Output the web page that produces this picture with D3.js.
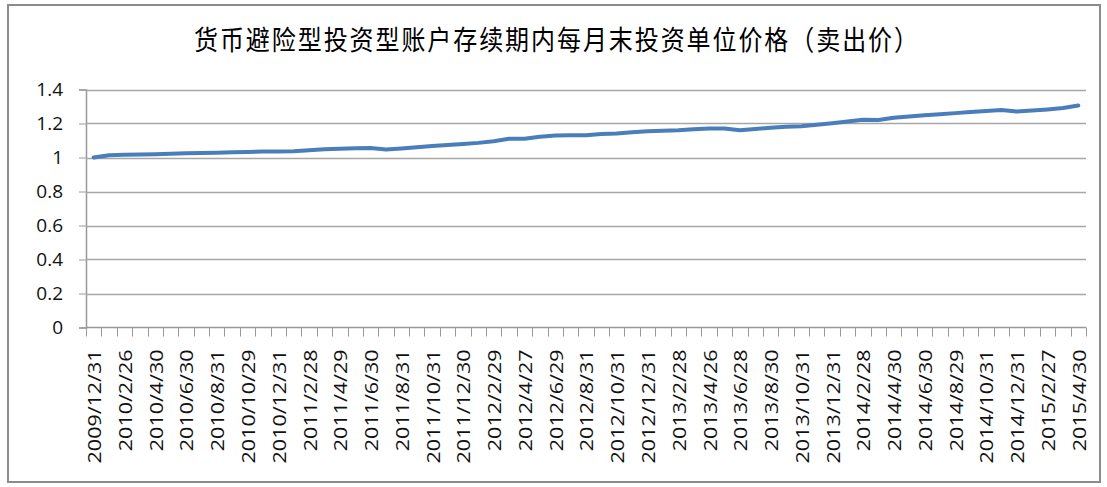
<!DOCTYPE html>
<html>
<head>
<meta charset="utf-8">
<script src="https://cdn.jsdelivr.net/npm/d3@7"></script>
<style>
  html, body { margin: 0; padding: 0; background: #fff; }
  svg { display: block; }
</style>
</head>
<body>
<svg id="chart" width="1107" height="487"></svg>
<script>
// month-end valuation dates (only every other one is labelled on the axis)
const dates = [
  '2009/12/31', '2010/1/29', '2010/2/26', '2010/3/31', '2010/4/30', '2010/5/31',
  '2010/6/30', '2010/7/30', '2010/8/31', '2010/9/30', '2010/10/29', '2010/11/30',
  '2010/12/31', '2011/1/31', '2011/2/28', '2011/3/31', '2011/4/29', '2011/5/31',
  '2011/6/30', '2011/7/29', '2011/8/31', '2011/9/30', '2011/10/31', '2011/11/30',
  '2011/12/30', '2012/1/31', '2012/2/29', '2012/3/30', '2012/4/27', '2012/5/31',
  '2012/6/29', '2012/7/31', '2012/8/31', '2012/9/28', '2012/10/31', '2012/11/30',
  '2012/12/31', '2013/1/31', '2013/2/28', '2013/3/29', '2013/4/26', '2013/5/31',
  '2013/6/28', '2013/7/31', '2013/8/30', '2013/9/30', '2013/10/31', '2013/11/29',
  '2013/12/31', '2014/1/30', '2014/2/28', '2014/3/31', '2014/4/30', '2014/5/30',
  '2014/6/30', '2014/7/31', '2014/8/29', '2014/9/30', '2014/10/31', '2014/11/28',
  '2014/12/31', '2015/1/30', '2015/2/27', '2015/3/31', '2015/4/30'
];

// unit price (sell price)
const prices = [
  1.000, 1.013, 1.016, 1.018, 1.019, 1.022, 1.025, 1.026, 1.028, 1.031,
  1.033, 1.035, 1.036, 1.037, 1.043, 1.049, 1.051, 1.055, 1.056, 1.047,
  1.053, 1.060, 1.067, 1.073, 1.079, 1.086, 1.096, 1.110, 1.110, 1.122,
  1.129, 1.131, 1.131, 1.138, 1.141, 1.148, 1.155, 1.157, 1.160, 1.166,
  1.171, 1.171, 1.160, 1.167, 1.175, 1.181, 1.184, 1.192, 1.202, 1.212,
  1.222, 1.220, 1.234, 1.241, 1.248, 1.254, 1.261, 1.267, 1.273, 1.280,
  1.270, 1.276, 1.283, 1.291, 1.306
];

const yTicks = [0, 0.2, 0.4, 0.6, 0.8, 1, 1.2, 1.4];
const title = '货币避险型投资型账户存续期内每月末投资单位价格（卖出价）';

const svg = d3.select('#chart');
const margin = { top: 89.5, right: 21, bottom: 160, left: 86 };
const W = 1107, H = 487;
const plotBottom = 327.5;

// outer frame
svg.append('rect')
  .attr('x', 8).attr('y', 5).attr('width', 1092).attr('height', 477)
  .attr('fill', '#fff').attr('stroke', '#8c8c8c').attr('stroke-width', 2);

// title (glyphs in the source are a little tall and narrow)
svg.append('text')
  .attr('transform', 'translate(556,43) scale(1,1.15)')
  .attr('text-anchor', 'middle').attr('dominant-baseline', 'middle')
  .attr('font-family', '"Noto Sans CJK SC", sans-serif')
  .attr('font-size', 24).attr('fill', '#000')
  .attr('textLength', 724).attr('lengthAdjust', 'spacing')
  .text(title);

const x = d3.scaleBand()
  .domain(dates)
  .range([margin.left, W - margin.right]);

const y = d3.scaleLinear()
  .domain([0, 1.4])
  .range([plotBottom, margin.top]);

// y axis
const yAxis = svg.append('g')
  .attr('transform', `translate(${margin.left},0)`)
  .call(d3.axisLeft(y).tickValues(yTicks).tickSize(7).tickPadding(16)
    .tickFormat(d => d3.format('~g')(d)));

yAxis.select('.domain').attr('stroke', '#999').attr('stroke-width', 1.5);
yAxis.selectAll('line').attr('stroke', '#999');
yAxis.selectAll('text')
  .attr('fill', '#111')
  .attr('font-family', '"Open Sans", sans-serif')
  .attr('font-size', 19);

// gridlines
svg.append('g')
  .selectAll('line')
  .data(yTicks.filter(d => d > 0))
  .join('line')
  .attr('x1', margin.left).attr('x2', W - margin.right)
  .attr('y1', d => Math.round(y(d)) + 0.5).attr('y2', d => Math.round(y(d)) + 0.5)
  .attr('stroke', '#a6a6a6').attr('stroke-width', 1.5);

// x axis baseline and category boundary ticks
svg.append('line')
  .attr('x1', margin.left).attr('x2', W - margin.right)
  .attr('y1', plotBottom).attr('y2', plotBottom)
  .attr('stroke', '#999').attr('stroke-width', 1.5);

const bounds = dates.map(d => x(d)).concat([W - margin.right]);
svg.append('g')
  .selectAll('line')
  .data(bounds)
  .join('line')
  .attr('x1', d => Math.round(d) + 0.5).attr('x2', d => Math.round(d) + 0.5)
  .attr('y1', plotBottom).attr('y2', plotBottom + 9)
  .attr('stroke', '#999').attr('stroke-width', 1);

// rotated date labels, every other month
svg.append('g')
  .selectAll('text')
  .data(dates.filter((d, i) => i % 2 === 0))
  .join('text')
  .attr('transform', d => `translate(${x(d) + x.bandwidth() / 2},${plotBottom + 22}) rotate(-90) scale(1.13,1)`)
  .attr('text-anchor', 'end')
  .attr('dominant-baseline', 'central')
  .attr('font-family', '"Open Sans", sans-serif')
  .attr('font-size', 19)
  .attr('fill', '#111')
  .text(d => d);

// price line
const line = d3.line()
  .x((d, i) => x(dates[i]) + x.bandwidth() / 2)
  .y(d => y(d));

svg.append('path')
  .datum(prices)
  .attr('d', line)
  .attr('fill', 'none')
  .attr('stroke', '#4a7ebb')
  .attr('stroke-width', 4)
  .attr('stroke-linejoin', 'round')
  .attr('stroke-linecap', 'round');
</script>
</body>
</html>
